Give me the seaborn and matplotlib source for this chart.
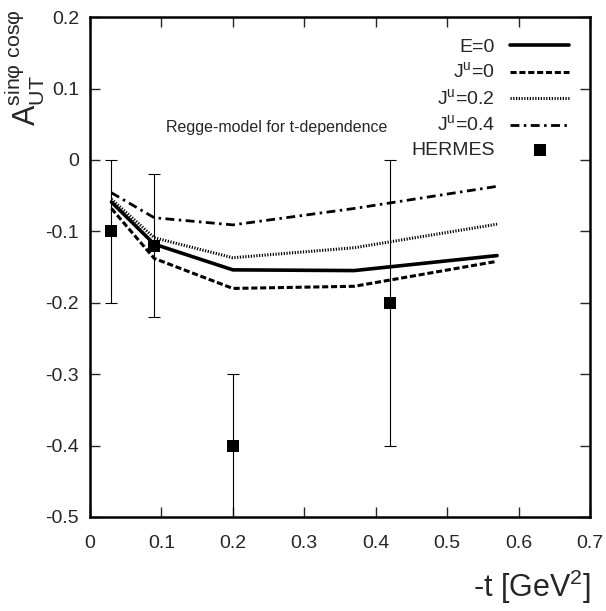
import numpy as np
import pandas as pd
import seaborn as sea
import matplotlib.pyplot as plt

sea.set_style("ticks")
plt.rcParams["font.family"] = ["Liberation Sans", "DejaVu Sans"]
plt.rcParams["mathtext.fontset"] = "custom"
plt.rcParams["mathtext.rm"] = "Liberation Sans"

# model curves (Regge t-dependence)
t_model = [0.03, 0.09, 0.2, 0.37, 0.57]
a_e0 = [-0.059, -0.118, -0.154, -0.155, -0.134]
a_j0 = [-0.068, -0.138, -0.180, -0.177, -0.142]
a_j02 = [-0.055, -0.109, -0.137, -0.123, -0.090]
a_j04 = [-0.046, -0.081, -0.091, -0.068, -0.037]

# HERMES data
t_hermes = [0.03, 0.09, 0.2, 0.42]
a_hermes = [-0.10, -0.12, -0.40, -0.20]
err_hi = [0.10, 0.10, 0.10, 0.20]
err_lo = [0.10, 0.10, 0.10, 0.20]

labels = ["E=0", "J$^{\\mathrm{u}}$=0", "J$^{\\mathrm{u}}$=0.2", "J$^{\\mathrm{u}}$=0.4"]
series = [a_e0, a_j0, a_j02, a_j04]

STYLES = [
    dict(lw=2.6, dashes=(None, None)),
    dict(lw=2.2, dashes=(2.0, 0.9)),
    dict(lw=2.2, dashes=(0.4, 0.5)),
    dict(lw=2.0, dashes=(3.2, 1.6, 0.9, 1.6)),
]

df = pd.DataFrame({
    "t": np.tile(t_model, len(series)),
    "a": np.concatenate(series),
    "model": np.repeat(labels, len(t_model)),
})

fig = plt.figure(figsize=(6.06, 6.11), dpi=100)
ax = fig.add_axes([0.1485, 0.154, 0.825, 0.818])

for lab, sty in zip(labels, STYLES):
    sea.lineplot(data=df[df["model"] == lab], x="t", y="a", color="black",
        linewidth=sty["lw"], label=lab, ax=ax)
    line = ax.lines[-1]
    if sty["dashes"][0] is not None:
        line.set_dashes(sty["dashes"])

ax.errorbar(t_hermes, a_hermes, yerr=[err_lo, err_hi], fmt="none",
    ecolor="black", elinewidth=0.8, capsize=4, capthick=0.8)
ax.scatter(t_hermes, a_hermes, marker="s", s=70, color="black",
    linewidths=0, label="HERMES", zorder=5)

ax.set_xlim(0, 0.7)
ax.set_ylim(-0.5, 0.2)
ax.set_xticks(np.arange(0, 0.71, 0.1))
ax.set_xticklabels(["0", "0.1", "0.2", "0.3", "0.4", "0.5", "0.6", "0.7"])
ax.set_yticks(np.arange(-0.5, 0.21, 0.1))
ax.set_yticklabels(["-0.5", "-0.4", "-0.3", "-0.2", "-0.1", "0", "0.1", "0.2"])
ax.tick_params(direction="in", length=7, width=1, top=True, right=True,
    labelsize=14)
ax.tick_params(axis="x", pad=13)
ax.tick_params(axis="y", pad=8)
for sp in ax.spines.values():
    sp.set_linewidth(1.8)
    sp.set_color("black")

ax.set_xlabel("")
ax.set_ylabel("")
fig.text(0.975, 0.008, "-t [GeV$^2$]", ha="right", va="bottom", fontsize=22)
fig.text(0.005, 0.985, "A$_{\\mathrm{UT}}^{\\mathrm{sin\\varphi\\ cos\\varphi}}$",
    rotation=90, ha="left", va="top", fontsize=22)

ax.text(0.262, 0.046, "Regge-model for t-dependence", ha="center", va="center",
    fontsize=11.5)

ax.legend(loc="upper right", bbox_to_anchor=(0.985, 0.985), frameon=False,
    markerfirst=False, fontsize=14, handlelength=3.0, labelspacing=0.3,
    handletextpad=0.8, borderaxespad=0.3)

plt.savefig("out.png")
plt.close()
